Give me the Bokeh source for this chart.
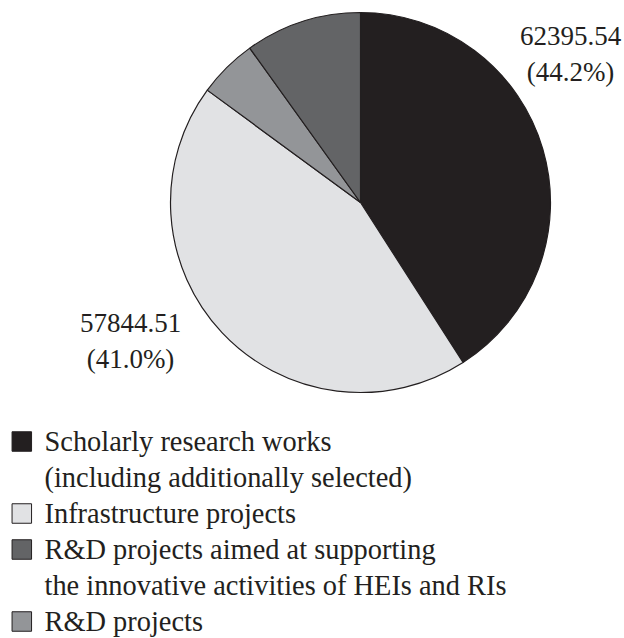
import math
from bokeh.plotting import figure
from bokeh.models import Range1d, ColumnDataSource
from bokeh.core.properties import value
from bokeh.embed import file_html
from bokeh.resources import INLINE

# Slices in drawing order (clockwise from 12 o'clock)
slice_names = ["Scholarly research works (including additionally selected)",
               "Infrastructure projects",
               "R&D projects",
               "R&D projects aimed at supporting the innovative activities of HEIs and RIs"]
slice_values = [57844.51, 62395.54, 7100.0, 14000.0]
slice_colors = ["#231f20", "#e1e2e4", "#939598", "#636466"]

# Data labels as printed
label_lines_1 = ["62395.54", "(44.2%)"]
label_lines_2 = ["57844.51", "(41.0%)"]

# Legend entries (order as shown)
legend_lines = [["Scholarly research works", "(including additionally selected)"],
                ["Infrastructure projects"],
                ["R&D projects aimed at supporting", "the innovative activities of HEIs and RIs"],
                ["R&D projects"]]
legend_colors = ["#231f20", "#e1e2e4", "#636466", "#939598"]

W, H = 624, 638
FONT = "Liberation Serif"
FS_LEG = "28.4px"
FS_LAB = "27px"

p = figure(width=W, height=H, output_backend="svg", toolbar_location=None,
           x_range=Range1d(0, W), y_range=Range1d(H, 0), min_border=0)
p.axis.visible = False
p.grid.visible = False
p.outline_line_color = None
p.background_fill_color = "white"
p.border_fill_color = "white"

# Pie (angles in screen convention: pi/2 = 12 o'clock, clockwise)
total = sum(slice_values)
cx, cy, r = 360, 202, 190
starts, ends = [], []
cum = 0.0
for v in slice_values:
    starts.append(math.pi / 2 - 2 * math.pi * cum)
    cum += v / total
    ends.append(math.pi / 2 - 2 * math.pi * cum)
src = ColumnDataSource(dict(start=starts, end=ends, color=slice_colors, name=slice_names))
p.wedge(x=cx, y=cy, radius=r, start_angle="start", end_angle="end",
        direction="clock", fill_color="color", line_color="#231f20",
        line_width=1.2, source=src)

# Data labels
p.text(x=[570, 570], y=[35, 71], text=label_lines_1, text_font=value(FONT),
       text_font_size=FS_LAB, text_align="center", text_baseline="middle", text_color="#231f20")
p.text(x=[130, 130], y=[322, 358], text=label_lines_2, text_font=value(FONT),
       text_font_size=FS_LAB, text_align="center", text_baseline="middle", text_color="#231f20")

# Legend
line_y = [441, 477, 513, 549, 585, 621]
sq_x, sq_y, sq_c = [], [], []
tx, ty, tt = [], [], []
k = 0
for lines, c in zip(legend_lines, legend_colors):
    sq_x.append(21.3)
    sq_y.append(line_y[k])
    sq_c.append(c)
    for ln in lines:
        tx.append(44)
        ty.append(line_y[k])
        tt.append(ln)
        k += 1
p.rect(x=sq_x, y=sq_y, width=19.5, height=19.5, fill_color=sq_c, line_color="#231f20", line_width=1)
p.text(x=tx, y=ty, text=tt, text_font=value(FONT), text_font_size=FS_LEG,
       text_align="left", text_baseline="middle", text_color="#231f20")

open("out.html", "w").write(file_html(p, INLINE))
